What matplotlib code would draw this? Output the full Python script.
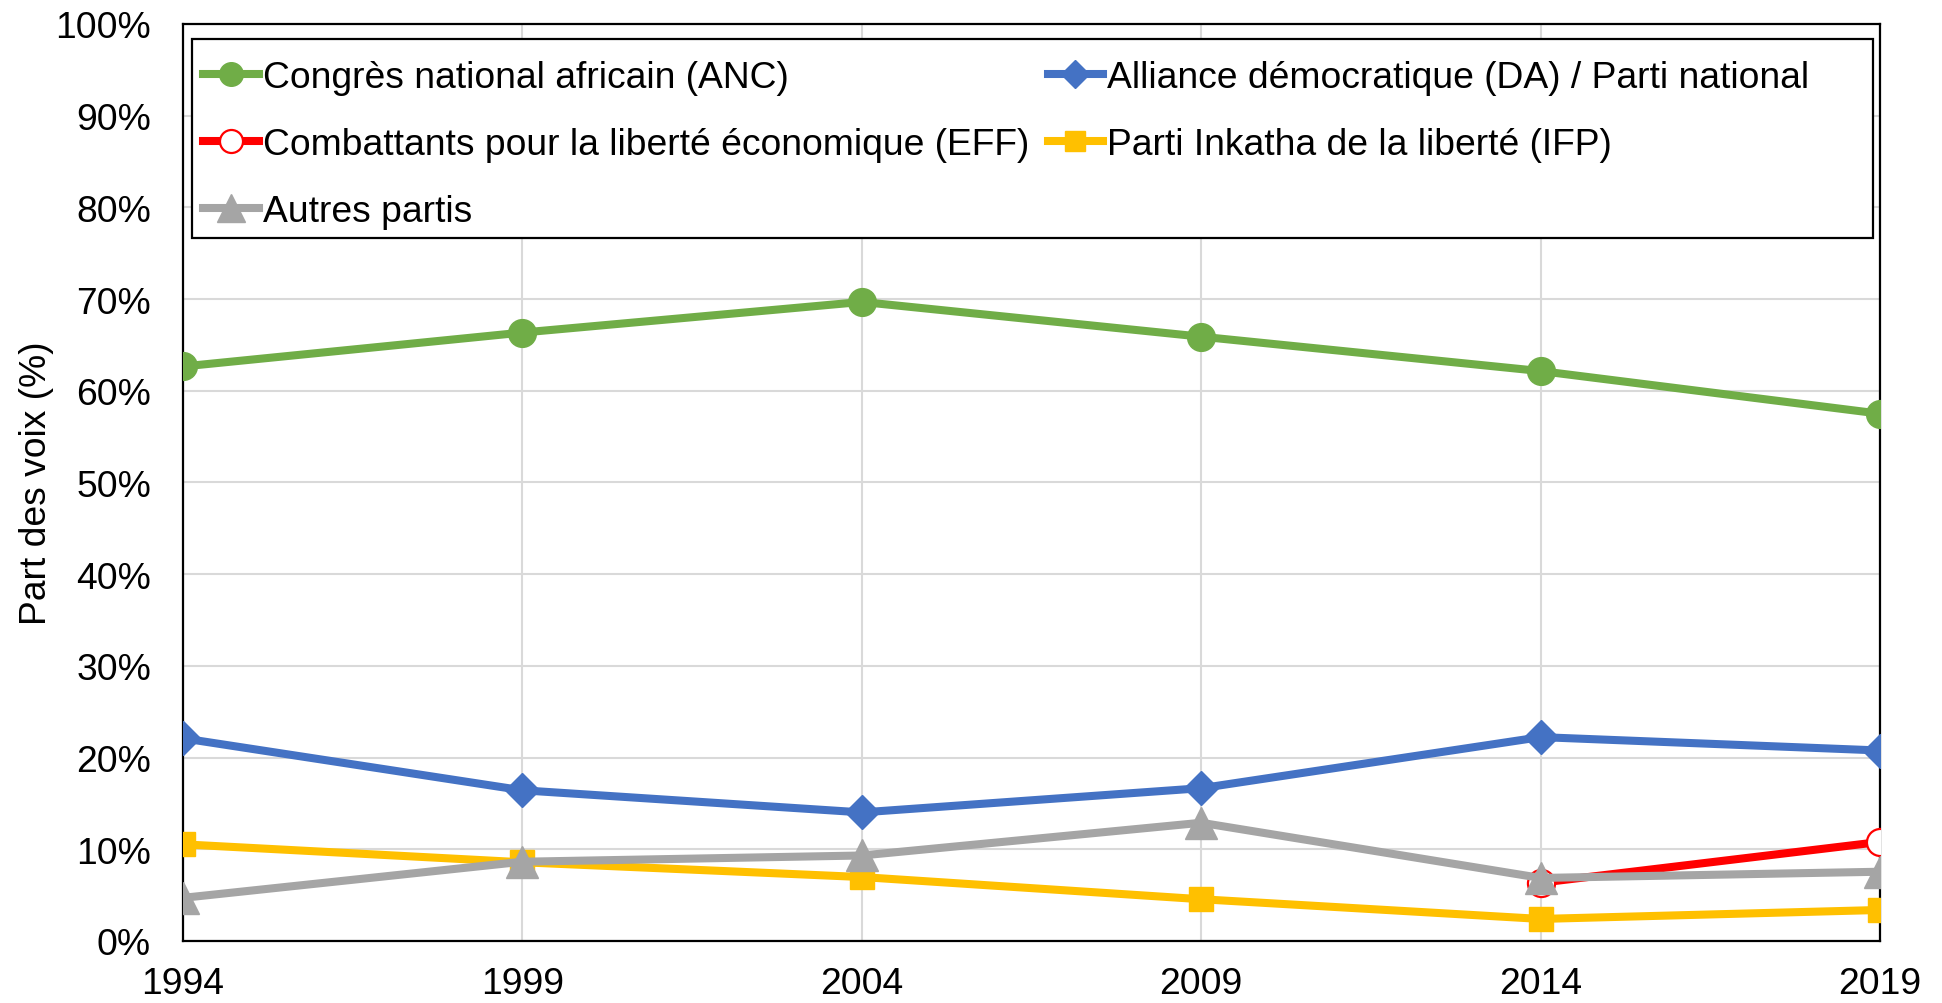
import matplotlib.pyplot as plt
from matplotlib.patches import Rectangle
from matplotlib.ticker import PercentFormatter

plt.rcParams['font.family'] = ['Liberation Sans', 'DejaVu Sans']

years = [1994, 1999, 2004, 2009, 2014, 2019]
anc = [62.65, 66.35, 69.69, 65.90, 62.15, 57.50]
da = [22.1, 16.43, 14.02, 16.66, 22.23, 20.77]
eff_years = [2014, 2019]
eff = [6.35, 10.80]
ifp = [10.54, 8.58, 6.97, 4.55, 2.40, 3.38]
autres = [4.7, 8.64, 9.32, 12.89, 6.87, 7.55]

fig = plt.figure(figsize=(19.42, 10.04), dpi=100)
ax = fig.add_axes([0.0942, 0.0618, 0.8739, 0.9133])

lw = 5.8
l_anc, = ax.plot(years, anc, color='#70ad47', lw=lw, marker='o', ms=20,
                 label='Congrès national africain (ANC)', zorder=3)
l_da, = ax.plot(years, da, color='#4472c4', lw=lw, marker='D', ms=17,
                label='Alliance démocratique (DA) / Parti national', zorder=3)
l_eff, = ax.plot(eff_years, eff, color='#ff0000', lw=lw, marker='o', ms=19.5,
                 mfc='white', mec='#ff0000', mew=1.6,
                 label='Combattants pour la liberté économique (EFF)', zorder=3)
l_ifp, = ax.plot(years, ifp, color='#ffc000', lw=lw, marker='s', ms=17.5,
                 label='Parti Inkatha de la liberté (IFP)', zorder=3)
l_aut, = ax.plot(years, autres, color='#a5a5a5', lw=lw, marker='^', ms=23,
                 label='Autres partis', zorder=4)

ax.set_xlim(1994, 2019)
ax.set_ylim(0, 100)
ax.set_xticks(years)
ax.set_yticks(range(0, 101, 10))
ax.yaxis.set_major_formatter(PercentFormatter(decimals=0))
ax.tick_params(axis='y', length=0, labelsize=26.8, pad=23)
ax.tick_params(axis='x', length=0, labelsize=26.8, pad=18)
ax.grid(True, color='#d9d9d9', lw=1.5)
ax.set_axisbelow(True)
for s in ax.spines.values():
    s.set_linewidth(1.6)
    s.set_color('black')
ax.set_ylabel('Part des voix (%)', fontsize=26.8, labelpad=1)

# legend box drawn separately so it can span the plot width
box = Rectangle((0.0053, 0.7666), 0.9906, 0.217, transform=ax.transAxes,
                facecolor='white', edgecolor='black', lw=1.6, zorder=4.9)
ax.add_patch(box)

handles = [l_anc, l_eff, l_aut, l_da, l_ifp]
leg = ax.legend(handles=handles, labels=[h.get_label() for h in handles],
                loc='upper left', ncol=2, fontsize=26.8, frameon=False,
                handlelength=1.5, handletextpad=0.1, columnspacing=0.5,
                bbox_to_anchor=(0.0053, 0.9725), borderaxespad=0,
                labelspacing=0.86, borderpad=0.3, markerscale=0.85)
leg.set_zorder(5)

fig.savefig('out.png', dpi=100)
